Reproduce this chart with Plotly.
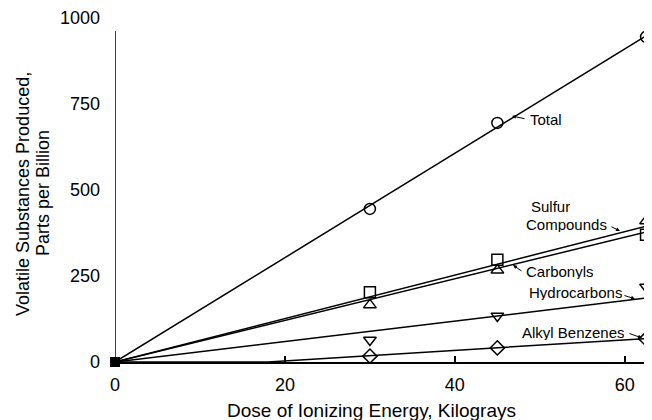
import plotly.graph_objects as go

# ---- data ----
dose = [30, 45, 62.5]
total = [445, 695, 945]
sulfur = [166, 267, 410]
carbonyls = [203, 297, 370]
hydrocarbons = [64, 134, 218]
alkyl = [17, 41, 67]

# fitted lines (start/end points)
fit_total_x, fit_total_y = [0, 62.5], [0, 948]
fit_sulfur_x, fit_sulfur_y = [0, 63], [0, 398]
fit_carb_x, fit_carb_y = [0, 63], [0, 381]
fit_hydro_x, fit_hydro_y = [0, 62.6], [0, 186]
fit_alkyl_x, fit_alkyl_y = [0, 18, 62.4], [0, 0, 68]

origin_x, origin_y = [0], [0]

xticks = [0, 20, 40, 60]
yticks = [0, 250, 500, 750, 1000]

FONT = "Liberation Sans, Arial, Helvetica, sans-serif"
OFF = 8  # page body margin of the browser
W, H = 652 - OFF, 420 - OFF
# plot area in page pixels: x 115..652, y 18..362
L, R, T, B = 115 - OFF, 0, 18 - OFF, 420 - 362
PW, PH = W - L - R, H - T - B


def px(p):
    return (p - OFF - L) / PW


def py(p):
    return (420 - B - p) / PH


fig = go.Figure()

line_style = dict(color="black", width=1.5)
for xs, ys in [(fit_total_x, fit_total_y), (fit_sulfur_x, fit_sulfur_y),
               (fit_carb_x, fit_carb_y), (fit_hydro_x, fit_hydro_y),
               (fit_alkyl_x, fit_alkyl_y)]:
    fig.add_trace(go.Scatter(x=xs, y=ys, mode="lines", line=line_style,
                             showlegend=False, hoverinfo="skip", cliponaxis=False))

marker_line = dict(color="black", width=1.5)
for ys, sym in [(total, "circle-open"), (sulfur, "triangle-up-open"),
                (carbonyls, "square-open"), (hydrocarbons, "triangle-down-open"),
                (alkyl, "diamond-open")]:
    fig.add_trace(go.Scatter(x=dose, y=ys, mode="markers",
                             marker=dict(symbol=sym, size=11, color="black", line=marker_line),
                             showlegend=False, cliponaxis=False))

fig.add_trace(go.Scatter(x=origin_x, y=origin_y, mode="markers",
                         marker=dict(symbol="square", size=10, color="black"),
                         showlegend=False, cliponaxis=False))

# y-axis line (ends below the 1000 label)
fig.add_shape(type="line", xref="x", yref="y", x0=0, x1=0, y0=0, y1=962,
              line=dict(color="black", width=1.5))

ann_font = dict(family=FONT, size=15, color="black")
labels = [
    ("Total", 528, 119),
    ("Sulfur", 529, 206),
    ("Compounds", 524, 224),
    ("Carbonyls", 524, 271),
    ("Hydrocarbons", 527, 292),
    ("Alkyl Benzenes", 520, 332),
]
for txt, x, y in labels:
    fig.add_annotation(text=txt, xref="paper", yref="paper", x=px(x), y=py(y),
                       xanchor="left", yanchor="middle", align="left",
                       showarrow=False, font=ann_font, height=16)

arrows = [  # tip px, tail offset
    (512, 116, 14, 3),
    (620, 231, -10, -5),
    (513, 265, 10, 7),
    (635, 299, -12, -4),
    (642, 338, -14, -5),
]
for x, y, ax, ay in arrows:
    fig.add_annotation(text="", xref="paper", yref="paper", x=px(x), y=py(y),
                       ax=ax, ay=ay, showarrow=True, arrowhead=2, arrowsize=0.8,
                       arrowwidth=1, arrowcolor="black")

fig.add_annotation(text="Dose of Ionizing Energy, Kilograys", xref="paper", yref="paper",
                   x=px(371), y=py(410), xanchor="center", yanchor="middle",
                   showarrow=False, font=dict(family=FONT, size=19, color="black"))
ytitle_font = dict(family=FONT, size=18, color="black")
fig.add_annotation(text="Volatile Substances Produced,", xref="paper", yref="paper",
                   x=px(23), y=py(194), xanchor="center", yanchor="middle",
                   textangle=-90, showarrow=False, font=ytitle_font)
fig.add_annotation(text="Parts per Billion", xref="paper", yref="paper",
                   x=px(43), y=py(193), xanchor="center", yanchor="middle",
                   textangle=-90, showarrow=False, font=ytitle_font)

fig.update_layout(
    width=W, height=H,
    margin=dict(l=L, r=R, t=T, b=B, pad=0),
    paper_bgcolor="white", plot_bgcolor="white",
    font=dict(family=FONT, size=18, color="black"),
    showlegend=False,
    xaxis=dict(range=[0, 63.2], tickvals=xticks, ticks="inside", ticklen=6,
               tickwidth=1.5, tickcolor="black", showline=True, linecolor="black",
               linewidth=1.5, showgrid=False, zeroline=False,
               tickfont=dict(family=FONT, size=18), ticklabelstandoff=6),
    yaxis=dict(range=[0, 1000], tickvals=yticks, ticks="", showline=False,
               showgrid=False, zeroline=False,
               tickfont=dict(family=FONT, size=18), ticklabelstandoff=14),
)

fig.write_html("out.html")
